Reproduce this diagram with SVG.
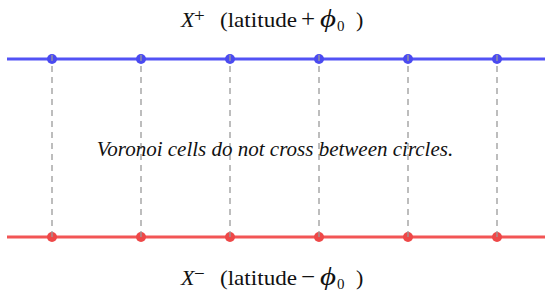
<svg xmlns="http://www.w3.org/2000/svg" width="550" height="295" viewBox="0 0 550 295">
<style>
.lbl{font-family:'Liberation Serif','DejaVu Serif',serif;font-size:22px;fill:#111}
.it{font-style:italic}
.sm{font-size:15px}
.sup{font-size:19px}
.op{font-size:25px}
.note{font-family:'Liberation Serif','DejaVu Serif',serif;font-style:italic;font-size:21px;fill:#111}
.blue{stroke:#5252f5;stroke-width:3}
.red{stroke:#f25555;stroke-width:3}
.bd{fill:#4a4af0}
.rd{fill:#ee4848}
.dash{stroke:#9a9a9a;stroke-width:1.3;stroke-dasharray:6 5}
</style>
<rect width="550" height="295" fill="#fff"/>
<g id="lines">
<line class="blue" x1="7" y1="59" x2="545" y2="59"/>
<line class="red" x1="7" y1="237" x2="545" y2="237"/>
</g>
<g id="top-nodes">
<circle class="bd" cx="52" cy="59" r="5"/>
<circle class="bd" cx="141" cy="59" r="5"/>
<circle class="bd" cx="230" cy="59" r="5"/>
<circle class="bd" cx="319" cy="59" r="5"/>
<circle class="bd" cx="408" cy="59" r="5"/>
<circle class="bd" cx="497" cy="59" r="5"/>
</g>
<g id="bottom-nodes">
<circle class="rd" cx="52" cy="237" r="5"/>
<circle class="rd" cx="141" cy="237" r="5"/>
<circle class="rd" cx="230" cy="237" r="5"/>
<circle class="rd" cx="319" cy="237" r="5"/>
<circle class="rd" cx="408" cy="237" r="5"/>
<circle class="rd" cx="497" cy="237" r="5"/>
</g>
<g id="connectors">
<line class="dash" x1="52" y1="55" x2="52" y2="241"/>
<line class="dash" x1="141" y1="55" x2="141" y2="241"/>
<line class="dash" x1="230" y1="55" x2="230" y2="241"/>
<line class="dash" x1="319" y1="55" x2="319" y2="241"/>
<line class="dash" x1="408" y1="55" x2="408" y2="241"/>
<line class="dash" x1="497" y1="55" x2="497" y2="241"/>
</g>
<g id="title-top">
<text class="lbl" y="27"><tspan class="it" x="181">X</tspan><tspan class="sup" x="194" y="22">+</tspan><tspan x="220" y="27" textLength="77" lengthAdjust="spacingAndGlyphs">(latitude</tspan><tspan class="op" x="301">+</tspan><tspan class="it op" x="320" textLength="16" lengthAdjust="spacingAndGlyphs">ϕ</tspan><tspan class="sm" x="337" y="31">0</tspan><tspan x="356" y="27">)</tspan></text>
</g>
<g id="title-bottom">
<text class="lbl" y="285"><tspan class="it" x="181">X</tspan><tspan class="sup" x="194" y="280">−</tspan><tspan x="220" y="285" textLength="77" lengthAdjust="spacingAndGlyphs">(latitude</tspan><tspan class="op" x="301">−</tspan><tspan class="it op" x="320" textLength="16" lengthAdjust="spacingAndGlyphs">ϕ</tspan><tspan class="sm" x="337" y="289">0</tspan><tspan x="356" y="285">)</tspan></text>
</g>
<g id="note">
<text class="note" x="275" y="156" text-anchor="middle">Voronoi cells do not cross between circles.</text>
</g>
</svg>
